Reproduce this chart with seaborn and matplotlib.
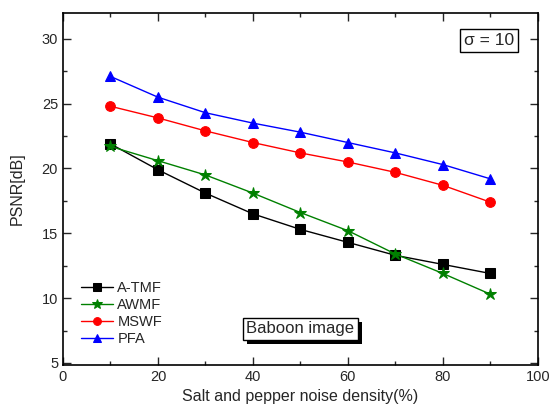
import pandas as pd
import numpy as np
import matplotlib
matplotlib.use("Agg")
import matplotlib.pyplot as plt
import seaborn as sns
from matplotlib.ticker import MultipleLocator
from matplotlib import patheffects

density = [10, 20, 30, 40, 50, 60, 70, 80, 90]
atmf = [21.9, 19.9, 18.1, 16.5, 15.3, 14.3, 13.3, 12.6, 11.9]
awmf = [21.7, 20.6, 19.5, 18.1, 16.6, 15.2, 13.4, 11.9, 10.3]
mswf = [24.8, 23.9, 22.9, 22.0, 21.2, 20.5, 19.7, 18.7, 17.4]
pfa = [27.1, 25.5, 24.3, 23.5, 22.8, 22.0, 21.2, 20.3, 19.2]

methods = ["A-TMF", "AWMF", "MSWF", "PFA"]

df = pd.DataFrame({
    "density": density * 4,
    "psnr": atmf + awmf + mswf + pfa,
    "method": sum([[m] * len(density) for m in methods], []),
})

sns.set_style("white")
plt.rcParams["font.family"] = ["Liberation Sans", "DejaVu Sans"]

fig, ax = plt.subplots(figsize=(5.5, 4.17), dpi=100)
fig.subplots_adjust(left=0.1145, right=0.978, top=0.969, bottom=0.125)

palette = {"A-TMF": "black", "AWMF": "green", "MSWF": "red", "PFA": "blue"}
markers = {"A-TMF": "s", "AWMF": "*", "MSWF": "o", "PFA": "^"}
sizes = {"A-TMF": 6.5, "AWMF": 9, "MSWF": 7, "PFA": 7.5}

for m in methods:
    sub = df[df.method == m]
    sns.lineplot(data=sub, x="density", y="psnr", ax=ax, color=palette[m],
                 marker=markers[m], markersize=sizes[m], markeredgecolor=palette[m],
                 linewidth=1, label=m)

ax.set_xlim(0, 100)
ax.set_ylim(4.85, 32)
ax.xaxis.set_major_locator(MultipleLocator(20))
ax.xaxis.set_minor_locator(MultipleLocator(10))
ax.yaxis.set_major_locator(MultipleLocator(5))
ax.yaxis.set_minor_locator(MultipleLocator(2.5))
ax.set_yticks([5, 10, 15, 20, 25, 30])
ax.tick_params(which="both", direction="in", top=True, right=True,
               bottom=True, left=True, labelsize=10.5)
ax.tick_params(which="major", length=6, width=1)
ax.tick_params(which="minor", length=3, width=1)
for s in ax.spines.values():
    s.set_color("black")
    s.set_linewidth(1.2)

ax.set_xlabel("Salt and pepper noise density(%)", fontsize=11.5)
ax.set_ylabel("PSNR[dB]", fontsize=11.5, labelpad=12)

leg = ax.legend(loc="lower left", bbox_to_anchor=(0.01, 0.015), frameon=False,
                fontsize=10.5, handlelength=2.2, handletextpad=0.3,
                labelspacing=0.22, markerscale=0.8)

ax.text(0.95, 0.922, "σ = 10", transform=ax.transAxes, ha="right", va="center",
        fontsize=12.5, bbox=dict(boxstyle="square,pad=0.25", fc="white", ec="black", lw=1))

lab = ax.text(0.5, 0.102, "Baboon image", transform=ax.transAxes, ha="center", va="center",
              fontsize=12, bbox=dict(boxstyle="square,pad=0.22", fc="white", ec="black", lw=1))
lab.get_bbox_patch().set_path_effects([
    patheffects.SimplePatchShadow(offset=(3, -3), shadow_rgbFace="black", alpha=1),
    patheffects.Normal(),
])

fig.savefig("out.png", dpi=100)
